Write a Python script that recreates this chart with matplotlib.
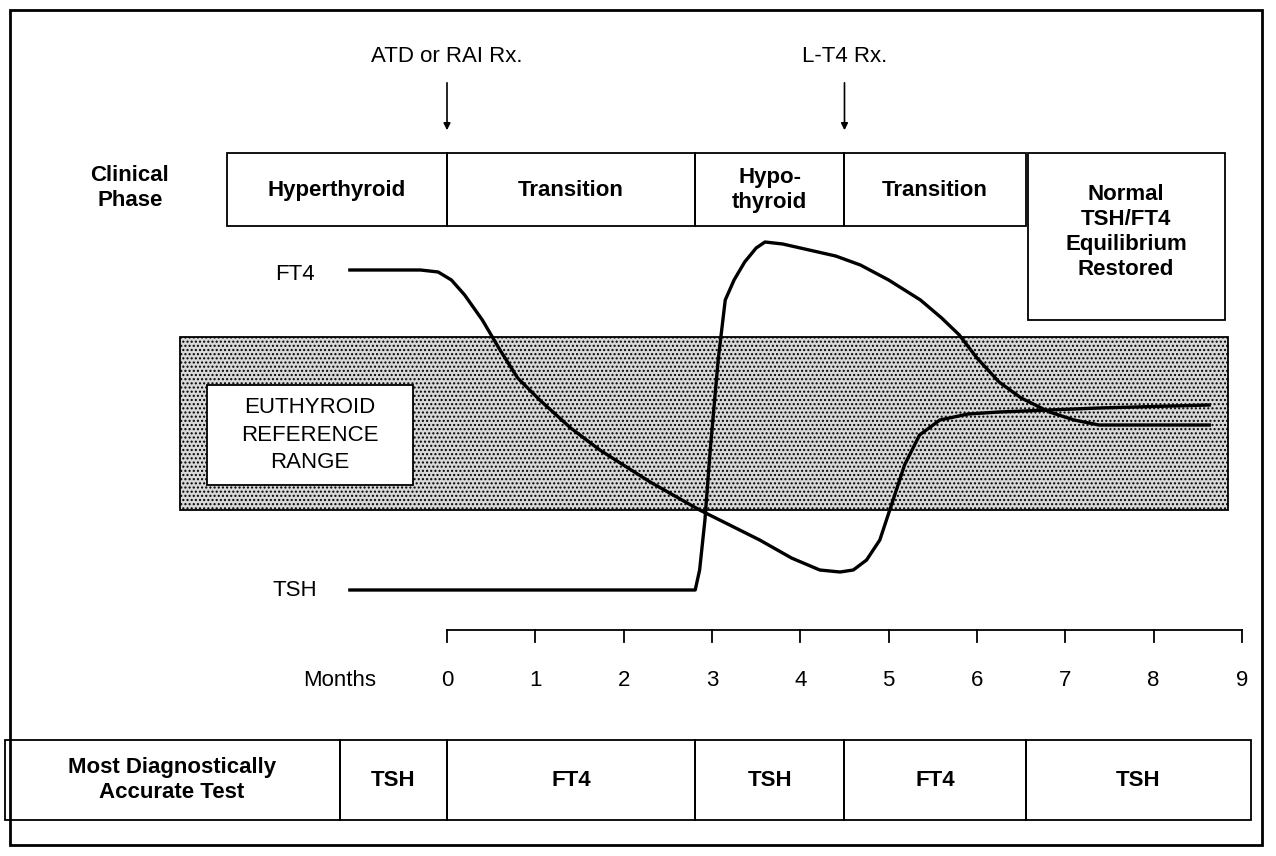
import matplotlib.pyplot as plt
from matplotlib.patches import Rectangle

# curves: months, level (drawn in page units, larger = lower on page)
ft4_m = [-1.1, -0.3, -0.1, 0.05, 0.2, 0.4, 0.6, 0.8, 1.05, 1.4, 1.73, 2.3, 2.86, 3.54, 3.9, 4.22, 4.45, 4.6, 4.75,
         4.9, 5.05, 5.18, 5.35, 5.58, 5.9, 6.25, 7.38, 8.63]
ft4_y = [270, 270, 272, 280, 295, 320, 350, 378, 400, 428, 450, 482, 510, 540, 558, 570, 572, 570, 560,
         540, 500, 465, 435, 420, 414, 412, 408, 405]
tsh_m = [-1.1, 2.81, 2.86, 2.92, 2.98, 3.07, 3.15, 3.25, 3.37, 3.5, 3.6, 3.8, 4.0, 4.4, 4.68, 5.0, 5.36, 5.6, 5.8,
         6.0, 6.25, 6.5, 6.82, 7.1, 7.38, 8.63]
tsh_y = [590, 590, 570, 520, 450, 360, 300, 280, 262, 248, 242, 244, 248, 256, 265, 280, 300, 318, 335,
         358, 382, 398, 412, 420, 425, 425]

phases = ["Hyperthyroid", "Transition", "Hypo-\nthyroid", "Transition"]
phase_edges = [-2.49, 0, 2.81, 4.5, 6.55]
tests = ["TSH", "FT4", "TSH", "FT4", "TSH"]
test_edges = [-1.2, 0, 2.81, 4.5, 6.55, 9.1]
months = list(range(10))

PX = 88.33
def mx(p):
    return (p - 447) / PX

fig = plt.figure(figsize=(12.76, 8.56), dpi=100)
ax = fig.add_axes([0, 0, 1, 1])
ax.set_xlim(mx(0), mx(1276))
ax.set_ylim(856, 0)
ax.axis("off")
lw = 1.3
bold = dict(fontweight="bold", fontsize=16, ha="center", va="center", family="Liberation Sans")
norm = dict(fontsize=16, ha="center", va="center", family="Liberation Sans")

ax.add_patch(Rectangle((mx(10), 10), (1252) / PX, 835, fill=False, lw=2))

# clinical phase row
ax.text(mx(130), 188, "Clinical\nPhase", **bold)
for i, lab in enumerate(phases):
    x0, x1 = phase_edges[i], phase_edges[i + 1]
    ax.add_patch(Rectangle((x0, 153), x1 - x0, 73, fill=False, lw=lw))
    ax.text((x0 + x1) / 2, 190, lab, **bold)
ax.add_patch(Rectangle((mx(1028), 153), (1225 - 1028) / PX, 167, fill=False, lw=lw))
ax.text(mx(1126), 232, "Normal\nTSH/FT4\nEquilibrium\nRestored", linespacing=1.25, **bold)

# arrows
for m, lab in [(0, "ATD or RAI Rx."), (4.5, "L-T4 Rx.")]:
    ax.annotate("", xy=(m, 133), xytext=(m, 80), arrowprops=dict(arrowstyle="-|>", lw=1.2, color="black"))
    ax.text(m, 56, lab, **norm)

# reference band
ax.add_patch(Rectangle((mx(180), 337), (1228 - 180) / PX, 173, facecolor="#d8d8d8", edgecolor="black", lw=lw, hatch="....", zorder=1))
ax.add_patch(Rectangle((mx(207), 385), (413 - 207) / PX, 100, facecolor="white", edgecolor="black", lw=lw, zorder=2))
ax.text(mx(310), 435, "EUTHYROID\nREFERENCE\nRANGE", linespacing=1.4, zorder=3, **norm)

ax.plot(ft4_m, ft4_y, color="black", lw=2.4, zorder=4, solid_joinstyle="round")
ax.plot(tsh_m, tsh_y, color="black", lw=2.4, zorder=4, solid_joinstyle="round")
ax.text(mx(295), 275, "FT4", **norm)
ax.text(mx(295), 590, "TSH", **norm)

# month axis
ax.plot([0, 9], [630, 630], color="black", lw=lw)
for m in months:
    ax.plot([m, m], [630, 642], color="black", lw=lw)
    ax.text(m, 680, str(m), **norm)
ax.text(mx(340), 680, "Months", **norm)

# test row
ax.add_patch(Rectangle((mx(5), 740), (340 - 5) / PX, 80, fill=False, lw=lw))
ax.text(mx(172), 780, "Most Diagnostically\nAccurate Test", **bold)
ax.add_patch(Rectangle((mx(340), 740), (447 - 340) / PX, 80, fill=False, lw=lw))
ax.text(mx(393), 780, tests[0], **bold)
for i, lab in enumerate(tests[1:]):
    x0, x1 = test_edges[i + 1], test_edges[i + 2]
    ax.add_patch(Rectangle((x0, 740), x1 - x0, 80, fill=False, lw=lw))
    ax.text((x0 + x1) / 2, 780, lab, **bold)

fig.savefig("out.png", dpi=100, facecolor="white")
